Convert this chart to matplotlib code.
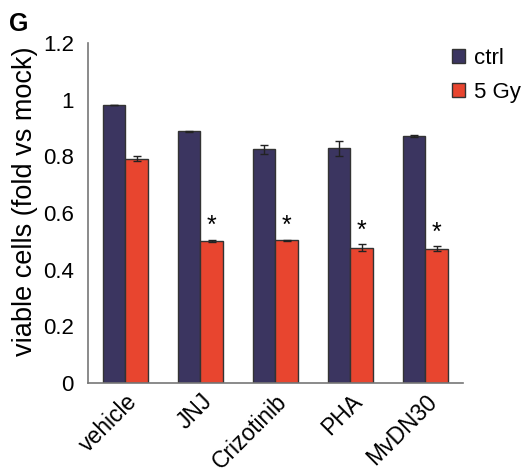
import matplotlib
matplotlib.use('Agg')
import matplotlib.pyplot as plt
import numpy as np

plt.rcParams['font.family'] = ['Liberation Sans', 'DejaVu Sans']

# data
treatments = ['vehicle', 'JNJ', 'Crizotinib', 'PHA', 'MvDN30']
ctrl = [0.98, 0.888, 0.826, 0.828, 0.872]
ctrl_err = [0.0, 0.002, 0.016, 0.028, 0.003]
gy5 = [0.792, 0.502, 0.504, 0.477, 0.474]
gy5_err = [0.008, 0.004, 0.002, 0.012, 0.008]
signif = [False, True, True, True, True]

fig = plt.figure(figsize=(5.26, 4.74), dpi=100)
ax = fig.add_axes([0.167, 0.192, 0.713, 0.717])

x = np.arange(len(treatments))
w = 0.3
navy = '#3b3560'
red = '#e8452f'
ekw = dict(ecolor='#222222', elinewidth=1, capsize=3, capthick=1)

ax.bar(x - w/2, ctrl, w, yerr=ctrl_err, color=navy, edgecolor='#333333',
       linewidth=1, error_kw=ekw, label='ctrl')
ax.bar(x + w/2, gy5, w, yerr=gy5_err, color=red, edgecolor='#333333',
       linewidth=1, error_kw=ekw, label='5 Gy')

for xi, v, e, s in zip(x, gy5, gy5_err, signif):
    if s:
        ax.text(xi + w/2, v + e + 0.005, '*', ha='center', va='bottom', fontsize=18)

ax.set_xlim(-0.5, len(treatments) - 0.5)
ax.set_ylim(0, 1.2)
ax.set_yticks([0, 0.2, 0.4, 0.6, 0.8, 1.0, 1.2])
ax.set_yticklabels(['0', '0.2', '0.4', '0.6', '0.8', '1', '1.2'], fontsize=16)
ax.set_xticks(x)
ax.set_xticklabels(treatments, rotation=45, ha='right', rotation_mode='anchor', fontsize=16.5)
ax.tick_params(axis='y', length=0, pad=10)
ax.tick_params(axis='x', length=0, pad=5)
ax.set_ylabel('viable cells (fold vs mock)', fontsize=19.5)
ax.yaxis.set_label_coords(-0.132, 0.535)

for side in ['top', 'right']:
    ax.spines[side].set_visible(False)
for side in ['left', 'bottom']:
    ax.spines[side].set_color('#777777')
    ax.spines[side].set_linewidth(1.2)

ax.legend(loc='upper left', bbox_to_anchor=(0.917, 1.046), frameon=False,
          fontsize=16, handlelength=0.6, handleheight=0.6, handletextpad=0.4,
          labelspacing=0.6)

fig.text(0.018, 0.935, 'G', fontsize=18, fontweight='bold')

fig.savefig('out.png', dpi=100)
